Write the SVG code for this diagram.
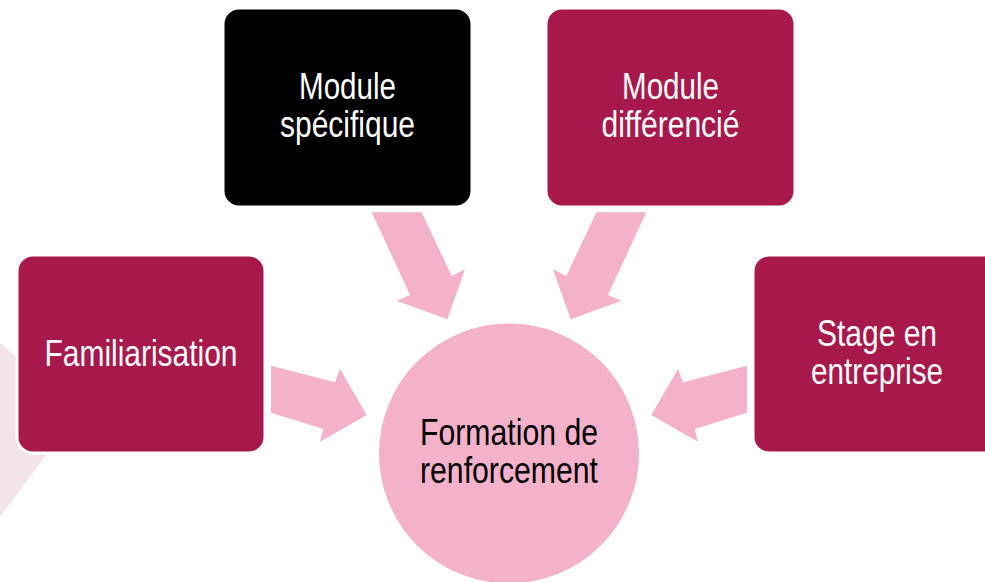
<svg xmlns="http://www.w3.org/2000/svg" width="985" height="582" viewBox="0 0 985 582">
  <style>
    .box { fill: #A8194B; stroke: #FFFFFF; stroke-width: 3; }
    .box-dark { fill: #000000; stroke: #FFFFFF; stroke-width: 3; }
    .hub { fill: #F4B1CA; stroke: #FFFFFF; stroke-width: 3; }
    .arrow { fill: #F4B1CA; }
    .label { font-family: "Liberation Sans Narrow", "Arial Narrow", "Liberation Sans", sans-serif; font-size: 36px; text-anchor: middle; }
    .light { fill: #FFFFFF; }
    .dark { fill: #000000; }
  </style>

  <rect width="985" height="582" fill="#FFFFFF"/>

  <!-- faint decorative backdrop on the left edge -->
  <polygon points="80,410 -30,318 -30,557" fill="#F2E4E8"/>

  <!-- arrows pointing to the hub -->
  <g id="connectors">
    <polygon class="arrow" points="371.7,212.3 421.7,212.3 451.7,276 465,269.3 447.3,319.3 396.7,300.7 410,295"/>
    <polygon class="arrow" points="646.3,212.3 596.3,212.3 566.3,276 553,269.3 570.7,319.3 621.3,300.7 608,295"/>
    <polygon class="arrow" points="271,365.7 335,382.3 340,369 366.7,415 320,441.7 323.3,429 271,412.7"/>
    <polygon class="arrow" points="747,365.7 683,382.3 678,369 651.3,415 698,441.7 694.7,429 747,412.7"/>
  </g>

  <g id="node-familiarisation">
    <rect class="box" x="17" y="255" width="248" height="198" rx="16"/>
    <text class="label light" x="141" y="366" textLength="193" lengthAdjust="spacingAndGlyphs">Familiarisation</text>
  </g>

  <g id="node-module-specifique">
    <rect class="box-dark" x="223" y="8" width="249" height="199" rx="16"/>
    <text class="label light" x="347.5" y="99" textLength="97" lengthAdjust="spacingAndGlyphs">Module</text>
    <text class="label light" x="347.5" y="137" textLength="135" lengthAdjust="spacingAndGlyphs">spécifique</text>
  </g>

  <g id="node-module-differencie">
    <rect class="box" x="546" y="8" width="249" height="199" rx="16"/>
    <text class="label light" x="670.5" y="99" textLength="97" lengthAdjust="spacingAndGlyphs">Module</text>
    <text class="label light" x="670.5" y="137" textLength="138" lengthAdjust="spacingAndGlyphs">différencié</text>
  </g>

  <g id="node-stage">
    <rect class="box" x="753" y="255" width="248" height="198" rx="16"/>
    <text class="label light" x="877" y="346" textLength="120" lengthAdjust="spacingAndGlyphs">Stage en</text>
    <text class="label light" x="877" y="384" textLength="132" lengthAdjust="spacingAndGlyphs">entreprise</text>
  </g>

  <g id="node-formation">
    <circle class="hub" cx="509" cy="453.5" r="131.5"/>
    <text class="label dark" x="509" y="445" textLength="178" lengthAdjust="spacingAndGlyphs">Formation de</text>
    <text class="label dark" x="509" y="483" textLength="178" lengthAdjust="spacingAndGlyphs">renforcement</text>
  </g>
</svg>
